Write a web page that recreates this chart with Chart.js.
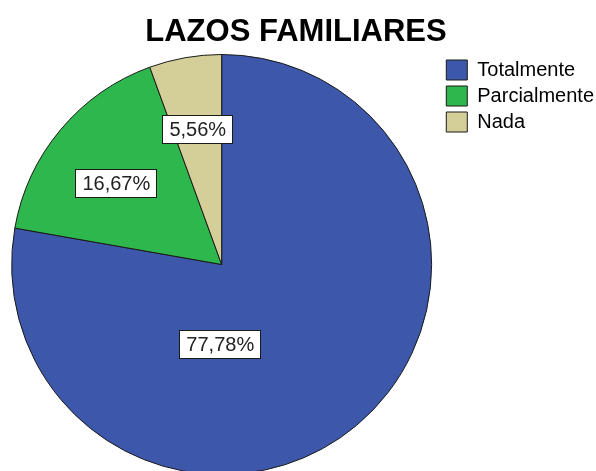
<!DOCTYPE html>
<html>
<head>
<meta charset="utf-8">
<script src="https://cdn.jsdelivr.net/npm/chart.js@4"></script>
<style>
  html, body { margin: 0; padding: 0; background: #fff; overflow: hidden; }
  #wrap { position: relative; width: 596px; height: 471px; overflow: hidden; }
  #title {
    position: absolute; left: 0; top: 13px; width: 592px;
    text-align: center; font: bold 31px/36px 'Liberation Sans', Arial, sans-serif;
    color: #000;
  }
  canvas { position: absolute; left: 0; top: 0; }
</style>
</head>
<body>
<div id="wrap">
  <canvas id="chart" width="596" height="476"></canvas>
  <div id="title"></div>
</div>
<script>
const title = "LAZOS FAMILIARES";
const categories = ["Totalmente", "Parcialmente", "Nada"];
const percents = [77.78, 16.67, 5.56];
const colors = ["#3D57AA", "#2EB74C", "#D4CE98"];

// where each % box sits: fraction of the radius, and an optional fixed angle (deg, canvas coords)
const labelFrac = [0.38, 0.632, 0.655];
const labelAngle = [91, 217.5, null];

const FONT = "'Liberation Sans', Arial, sans-serif";

document.getElementById("title").textContent = title;

const pctLabels = {
    id: "pctLabels",
    afterDatasetsDraw(chart) {
        const ctx = chart.ctx;
        const arcs = chart.getDatasetMeta(0).data;
        ctx.save();
        ctx.font = "20px " + FONT;
        ctx.textAlign = "center";
        ctx.textBaseline = "middle";
        arcs.forEach((arc, i) => {
            const p = arc.getProps(["x", "y", "startAngle", "endAngle", "outerRadius"], true);
            const ang = labelAngle[i] !== null ? labelAngle[i] * Math.PI / 180 : (p.startAngle + p.endAngle) / 2;
            const cx = p.x + Math.cos(ang) * p.outerRadius * labelFrac[i];
            const cy = p.y + Math.sin(ang) * p.outerRadius * labelFrac[i];
            const text = percents[i].toFixed(2).replace(".", ",") + "%";
            const w = ctx.measureText(text).width + 14;
            const h = 29;
            ctx.fillStyle = "#fff";
            ctx.fillRect(Math.round(cx - w / 2), Math.round(cy - h / 2), Math.round(w), h);
            ctx.strokeStyle = "#1a1a1a";
            ctx.lineWidth = 1;
            ctx.strokeRect(Math.round(cx - w / 2) + 0.5, Math.round(cy - h / 2) + 0.5, Math.round(w) - 1, h - 1);
            ctx.fillStyle = "#222";
            ctx.fillText(text, cx, cy + 1);
        });
        ctx.restore();
    }
};

new Chart(document.getElementById("chart").getContext("2d"), {
    type: "pie",
    data: {
        labels: categories,
        datasets: [{
            data: percents,
            backgroundColor: colors,
            borderColor: "#1a1a1a",
            borderWidth: 1
        }]
    },
    options: {
        responsive: false,
        animation: false,
        events: [],
        layout: { padding: { left: 3, right: -8, top: 54, bottom: 1 } },
        plugins: {
            title: { display: false },
            legend: {
                position: "right",
                align: "start",
                labels: {
                    boxWidth: 21,
                    boxHeight: 20,
                    padding: 6,
                    color: "#000",
                    font: { family: FONT, size: 20 }
                }
            },
            tooltip: { enabled: false }
        }
    },
    plugins: [pctLabels]
});
</script>
</body>
</html>
